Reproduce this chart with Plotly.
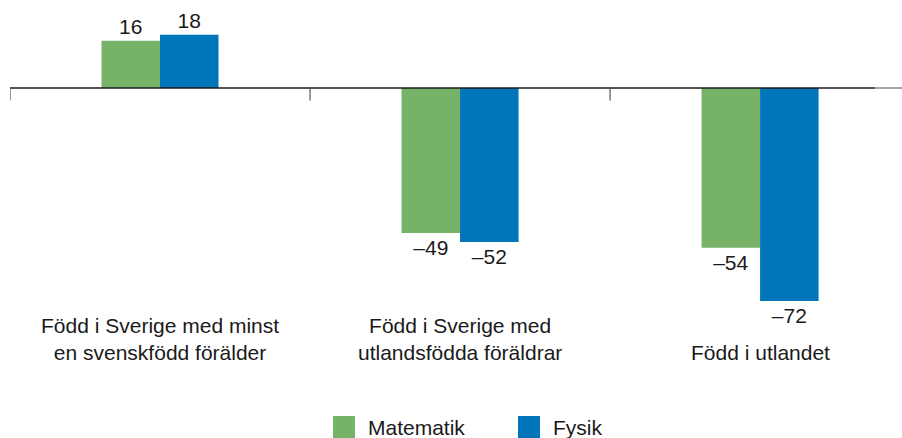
import plotly.graph_objects as go

# Data
categories = [
    "Född i Sverige med minst<br>en svenskfödd förälder",
    "Född i Sverige med<br>utlandsfödda föräldrar",
    "Född i utlandet",
]
series_names = ["Matematik", "Fysik"]
matematik = [16, -49, -54]
fysik = [18, -52, -72]
colors = ["#77B366", "#0075BA"]

FONT = "Liberation Sans, Arial, sans-serif"
TXT = "#1a1a1a"
PLOT_W, PLOT_H = 892, 310


def fmt(v):
    return str(v).replace("-", "\u2013")


fig = go.Figure()
for name, vals, col in zip(series_names, [matematik, fysik], colors):
    fig.add_trace(go.Bar(
        x=list(range(len(categories))),
        y=vals,
        name=name,
        marker=dict(color=col, line=dict(width=0)),
        text=[fmt(v) for v in vals],
        textposition="outside",
        textfont=dict(family=FONT, size=21, color=TXT),
        cliponaxis=False,
        showlegend=False,
    ))

n = len(categories)
shapes = []
# zero baseline
shapes.append(dict(type="line", xref="x", yref="y", x0=-0.5, x1=2.383, y0=0, y1=0,
                   line=dict(color="#1a1a1a", width=1.5)))
shapes.append(dict(type="line", xref="x", yref="y", x0=2.383, x1=2.48, y0=0, y1=0,
                   line=dict(color="#888888", width=1.5)))
# category boundary ticks
for b in [-0.5 + i for i in range(n)]:
    shapes.append(dict(type="line", xref="x", yref="y", x0=b, x1=b, y0=0, y1=-4.2,
                       line=dict(color="#555555", width=1.2)))

annotations = []
# category labels, bottom aligned
for i, c in enumerate(categories):
    annotations.append(dict(x=i, y=-(366 - PLOT_H) / PLOT_H, xref="x", yref="paper", text=c,
                            showarrow=False, xanchor="center", yanchor="bottom", align="center",
                            font=dict(family=FONT, size=21, color=TXT)))

# legend
leg_x = [333, 518]
for name, col, lx in zip(series_names, colors, leg_x):
    shapes.append(dict(type="rect", xref="paper", yref="paper",
                       x0=(lx - 10) / PLOT_W, x1=(lx + 22 - 10) / PLOT_W,
                       y0=-(416 - PLOT_H) / PLOT_H, y1=-(438 - PLOT_H) / PLOT_H,
                       fillcolor=col, line=dict(width=0)))
    annotations.append(dict(x=(lx + 33 - 10) / PLOT_W, y=-(427 - PLOT_H) / PLOT_H,
                            xref="paper", yref="paper",
                            text=name, showarrow=False, xanchor="left", yanchor="middle",
                            font=dict(family=FONT, size=21, color=TXT)))

fig.update_layout(
    width=902, height=438,
    margin=dict(l=10, r=0, t=0, b=128),
    paper_bgcolor="white", plot_bgcolor="white",
    barmode="group", bargap=0.61, bargroupgap=0,
    xaxis=dict(range=[-0.5, 2.473], showticklabels=False, showgrid=False, zeroline=False,
               showline=False, ticks="", fixedrange=True),
    yaxis=dict(range=[-75, 29.73], showticklabels=False, showgrid=False, zeroline=False,
               showline=False, ticks="", fixedrange=True),
    shapes=shapes,
    annotations=annotations,
    showlegend=False,
)

fig.write_html("out.html")
